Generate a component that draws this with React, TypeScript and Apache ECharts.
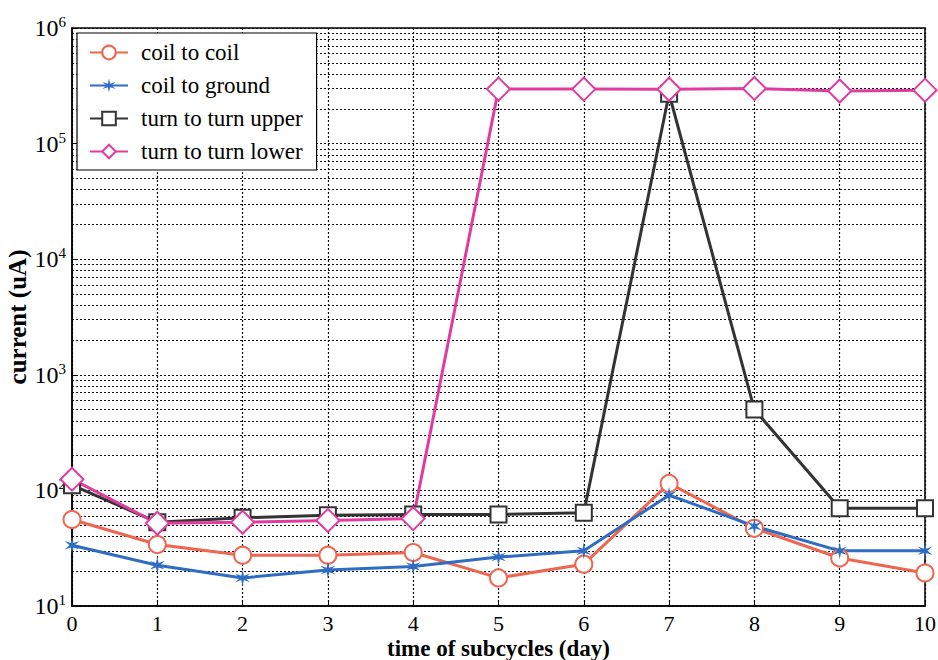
import React, { useEffect, useRef } from "react";
import * as echarts from "echarts";

const days = [0, 1, 2, 3, 4, 5, 6, 7, 8, 9, 10];
const coilToCoil = [56, 34, 27.5, 27.5, 29, 17.5, 23, 115, 47, 26, 19.3];
const coilToGround = [33.5, 22.5, 17.5, 20.5, 22, 26.5, 30, 91, 49, 30, 30];
const turnUpper = [111, 53, 58, 61, 62, 62, 64, 270000, 500, 70, 70];
const turnLower = [125, 52, 53, 55, 57, 296000, 296000, 295000, 300000, 285000, 290000];

const seriesNames = ["coil to coil", "coil to ground", "turn to turn upper", "turn to turn lower"];
const seriesColors = ["#ee6650", "#2f6cc4", "#333333", "#e03ca0"];

const asterisk =
  "path://M10 0L11.5 7.4L18.66 5L13 10L18.66 15L11.5 12.6L10 20L8.5 12.6L1.34 15L7 10L1.34 5L8.5 7.4Z";

const FONT = "Liberation Serif";

export default function App() {
  const ref = useRef<HTMLDivElement>(null);
  useEffect(() => {
    if (!ref.current) return;
    const chart = echarts.init(ref.current, undefined, { renderer: "svg" });

    const minorLines: { yAxis: number }[] = [];
    for (let k = 1; k <= 5; k++) {
      for (let m = 2; m <= 9; m++) minorLines.push({ yAxis: m * Math.pow(10, k) });
    }

    const pair = (arr: number[]) => days.map((d, i) => [d, arr[i]]);
    const common = {
      type: "line",
      lineStyle: { width: 3 },
      symbolKeepAspect: true,
    };
    const gridLine = { color: "#111", type: [2, 2], width: 1.2 };

    chart.setOption({
      animation: false,
      backgroundColor: "#ffffff",
      grid: {
        left: 72,
        right: 13,
        top: 28,
        bottom: 54,
        outerBoundsMode: "none",
        containLabel: false,
        show: true,
        borderColor: "#000",
        borderWidth: 1.5,
        backgroundColor: "transparent",
      },
      legend: {
        orient: "vertical",
        left: 77,
        top: 33,
        padding: [8, 14, 7, 12],
        backgroundColor: "#fff",
        borderColor: "#000",
        borderWidth: 1.2,
        itemWidth: 38,
        itemHeight: 17,
        itemGap: 10,
        textStyle: { fontFamily: FONT, fontSize: 23, color: "#000", padding: [0, 0, 0, 8] },
        data: seriesNames,
      },
      xAxis: {
        type: "value",
        min: 0,
        max: 10,
        interval: 1,
        name: "time of subcycles (day)",
        nameLocation: "middle",
        nameMoveOverlap: false,
        nameGap: 30,
        nameTextStyle: { fontFamily: FONT, fontSize: 23, fontWeight: "bold", color: "#000", lineHeight: 24 },
        axisLine: { lineStyle: { color: "#000", width: 1.5 } },
        axisTick: { inside: true, length: 6, lineStyle: { color: "#000" } },
        axisLabel: { fontFamily: FONT, fontSize: 22, color: "#000", margin: 6 },
        splitLine: { show: true, lineStyle: gridLine },
      },
      yAxis: {
        type: "log",
        logBase: 10,
        min: 10,
        max: 1000000,
        name: "current (uA)",
        nameLocation: "middle",
        nameMoveOverlap: false,
        nameGap: 42,
        nameTextStyle: { fontFamily: FONT, fontSize: 25, fontWeight: "bold", color: "#000", lineHeight: 26 },
        axisLine: { show: true, lineStyle: { color: "#000", width: 1.5 } },
        axisTick: { inside: true, length: 6, lineStyle: { color: "#000" } },
        axisLabel: {
          margin: 6,
          formatter: (v: number) => "10{sup|" + Math.round(Math.log10(v)) + "}",
          rich: {
            sup: { fontFamily: FONT, fontSize: 15, color: "#000", verticalAlign: "top", padding: [0, 0, 12, 0] },
          },
          fontFamily: FONT,
          fontSize: 24,
          color: "#000",
        },
        splitLine: { show: true, lineStyle: gridLine },
      },
      series: [
        {
          ...common,
          name: seriesNames[0],
          data: pair(coilToCoil),
          color: seriesColors[0],
          symbol: "emptyCircle",
          symbolSize: 17,
          itemStyle: { borderWidth: 3 },
          markLine: {
            silent: true,
            symbol: "none",
            label: { show: false },
            lineStyle: gridLine,
            data: minorLines,
            z: 1,
          },
        },
        {
          ...common,
          name: seriesNames[1],
          data: pair(coilToGround),
          color: seriesColors[1],
          symbol: asterisk,
          symbolSize: 17,
        },
        {
          ...common,
          name: seriesNames[2],
          data: pair(turnUpper),
          color: seriesColors[2],
          symbol: "emptyRect",
          symbolSize: 16,
          itemStyle: { borderWidth: 3 },
        },
        {
          ...common,
          name: seriesNames[3],
          data: pair(turnLower),
          color: seriesColors[3],
          symbol: "emptyDiamond",
          symbolSize: 23,
          itemStyle: { borderWidth: 3 },
        },
      ],
    });
    return () => chart.dispose();
  }, []);
  return <div ref={ref} style={{ width: 938, height: 660, position: "absolute", left: 0, top: 0 }} />;
}
